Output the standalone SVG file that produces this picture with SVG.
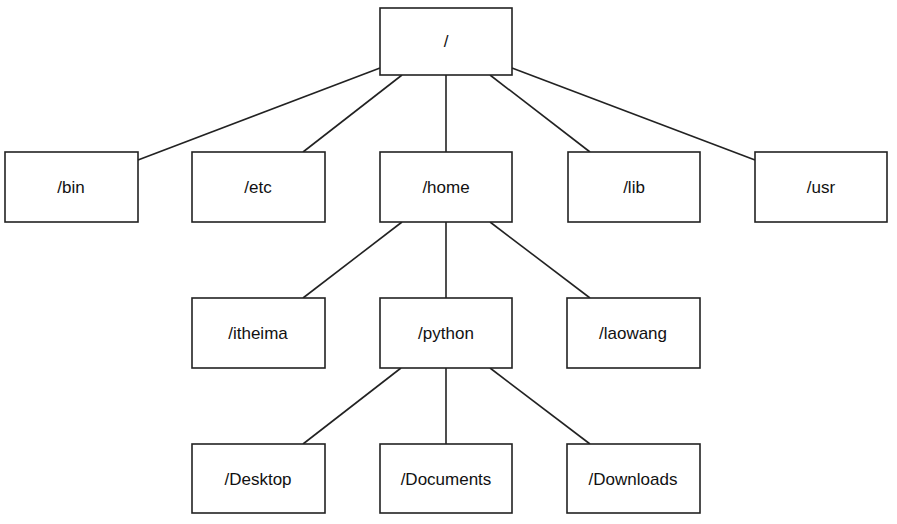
<svg xmlns="http://www.w3.org/2000/svg" width="897" height="524" viewBox="0 0 897 524">
<style>
rect{fill:#fff;stroke:#222;stroke-width:1.6}
text{font-family:"Liberation Sans",Arial,sans-serif;font-size:17px;fill:#111;text-anchor:middle;dominant-baseline:central}
#edges line{stroke:#222;stroke-width:1.6}
</style>
<rect x="0" y="0" width="897" height="524" style="fill:#fff;stroke:none"/>
<g id="edges">
<line x1="380" y1="68" x2="138" y2="160"/>
<line x1="402" y1="75" x2="303" y2="152"/>
<line x1="446" y1="75" x2="446" y2="152"/>
<line x1="490" y1="75" x2="590" y2="152"/>
<line x1="512" y1="68" x2="755" y2="160"/>
<line x1="402" y1="222" x2="303" y2="298"/>
<line x1="446" y1="222" x2="446" y2="298"/>
<line x1="490" y1="222" x2="590" y2="298"/>
<line x1="401" y1="368" x2="303" y2="444"/>
<line x1="446" y1="368" x2="446" y2="444"/>
<line x1="490" y1="368" x2="590" y2="444"/>
</g>
<g id="root"><rect x="380" y="8" width="132" height="67"/><text x="446" y="41">/</text></g>
<g id="bin"><rect x="5" y="152" width="133" height="70"/><text x="71" y="187">/bin</text></g>
<g id="etc"><rect x="192" y="152" width="133" height="70"/><text x="258" y="187">/etc</text></g>
<g id="home"><rect x="380" y="152" width="132" height="70"/><text x="446" y="187">/home</text></g>
<g id="lib"><rect x="568" y="152" width="132" height="70"/><text x="634" y="187">/lib</text></g>
<g id="usr"><rect x="755" y="152" width="132" height="70"/><text x="821" y="187">/usr</text></g>
<g id="itheima"><rect x="192" y="298" width="133" height="70"/><text x="258" y="333">/itheima</text></g>
<g id="python"><rect x="380" y="298" width="132" height="70"/><text x="446" y="333">/python</text></g>
<g id="laowang"><rect x="567" y="298" width="133" height="70"/><text x="633" y="333">/laowang</text></g>
<g id="desktop"><rect x="192" y="444" width="133" height="69"/><text x="258" y="479">/Desktop</text></g>
<g id="documents"><rect x="380" y="444" width="132" height="69"/><text x="446" y="479">/Documents</text></g>
<g id="downloads"><rect x="567" y="444" width="133" height="69"/><text x="633" y="479">/Downloads</text></g>
</svg>
